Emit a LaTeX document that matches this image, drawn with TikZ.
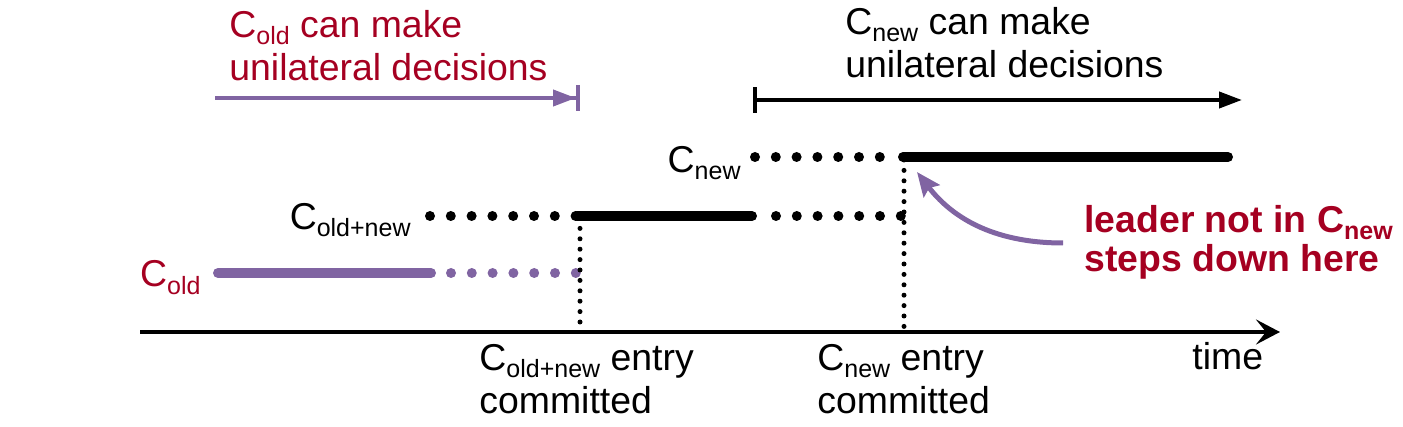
\documentclass[tikz,border=0pt]{standalone}
\usepackage{fontspec}
\setmainfont{Liberation Sans}
\usepackage{xcolor}
\definecolor{rojo}{RGB}{165, 0, 33}
\definecolor{morado}{RGB}{128, 100, 162}
\usepackage{tikz}
\usetikzlibrary{positioning, arrows.meta}
\newcommand{\low}[1]{\raisebox{-3.5pt}{\fontsize{12.5}{12.5}\selectfont #1}}

\begin{document}
\begin{tikzpicture}[
  x=0.5pt, y=-0.5pt,
  txt/.style={inner sep=0pt, font=\fontsize{18.7}{21.5}\selectfont, align=left},
  fase/.style={line width=5pt, line cap=round},
  puntos/.style={line width=5pt, line cap=round, dash pattern=on 0pt off 10.4pt},
  compromiso/.style={line width=2.5pt, line cap=round, dash pattern=on 0pt off 5.2pt},
  periodo/.style={line width=2pt}
]
  \useasboundingbox (0,0) rectangle (1403,427);

  \node[txt, text=rojo, anchor=north west] (oldtxt) at (229,10) {C\low{old} can make\\unilateral decisions};
  \node[txt, anchor=north west] (newtxt) at (845,7) {C\low{new} can make\\unilateral decisions};

  \node[txt, anchor=base east] (cnew) at (741,173) {C\low{new}};
  \node[txt, anchor=base east] (cboth) at (411,230) {C\low{old+new}};
  \node[txt, text=rojo, anchor=base east] (cold) at (201,287) {C\low{old}};

  \node[txt, anchor=north west] (bothent) at (479,344) {C\low{old+new} entry\\committed};
  \node[txt, anchor=north west] (newent) at (817,344) {C\low{new} entry\\committed};
  \node[txt, anchor=base west] (tiempo) at (1192,370) {time};
  \node[txt, text=rojo, font=\fontsize{18.7}{19.5}\selectfont\bfseries, anchor=north west] (lider) at (1084,205) {leader not in C\low{new}\\steps down here};

  \coordinate (p0) at (215,98);
  \coordinate (p1) at (580,98);
  \coordinate (b0) at (753,100);
  \coordinate (b1) at (1242,100);
  \coordinate (o0) at (218,273);
  \coordinate (o1) at (431,273);
  \coordinate (o2) at (451,273);
  \coordinate (o3) at (576,273);
  \coordinate (m0) at (430,216);
  \coordinate (m1) at (577,216);
  \coordinate (m2) at (752,216);
  \coordinate (m3) at (776,216);
  \coordinate (m4) at (901,216);
  \coordinate (n0) at (755,157);
  \coordinate (n1) at (880,157);
  \coordinate (n2) at (903,157);
  \coordinate (n3) at (1228,157);
  \coordinate (v0) at (580,218);
  \coordinate (v1) at (580,330);
  \coordinate (w0) at (904,160);
  \coordinate (w1) at (904,330);
  \coordinate (t0) at (140,332);
  \coordinate (t1) at (1280,332);
  \coordinate (k0) at (1063,243);
  \coordinate (k1) at (917,172);

  \draw[periodo, morado, -{Triangle[length=11.5pt, width=8pt] Bar[width=13pt, line width=2pt]}] (p0) -- (p1);
  \draw[periodo, {Bar[width=13pt, line width=2pt]}-{Triangle[length=11.5pt, width=8pt]}] (b0) -- (b1);

  \draw[fase, morado] (o0) -- (o1);
  \draw[puntos, morado] (o2) -- (o3);
  \draw[puntos] (m0) -- (m1);
  \draw[fase] (m1) -- (m2);
  \draw[puntos] (m3) -- (m4);
  \draw[puntos] (n0) -- (n1);
  \draw[fase] (n2) -- (n3);
  \draw[compromiso] (v0) -- (v1);
  \draw[compromiso] (w0) -- (w1);

  \draw[periodo, -{Stealth[length=12pt, width=12.5pt, inset=5pt]}] (t0) -- (t1);
  \draw[line width=2.5pt, morado, -{Stealth[length=12pt, width=10pt, inset=2pt]}] (k0) .. controls (990,243) and (950,215) .. (k1);
\end{tikzpicture}
\end{document}
